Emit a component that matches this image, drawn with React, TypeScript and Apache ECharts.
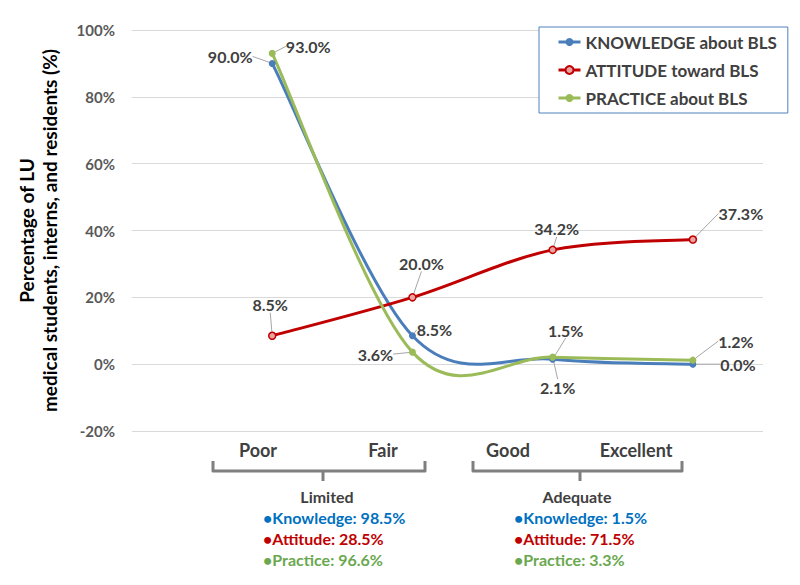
import React, { useEffect, useRef } from "react";
import * as echarts from "echarts";

const categories = ["Poor", "Fair", "Good", "Excellent"];
const seriesNames = ["KNOWLEDGE about BLS", "ATTITUDE toward BLS", "PRACTICE about BLS"];
const knowledge = [90.0, 8.5, 1.5, 0.0];
const attitude = [8.5, 20.0, 34.2, 37.3];
const practice = [93.0, 3.6, 2.1, 1.2];
const yMin = -20;
const yMax = 100;
const yStep = 20;
const groupNames = ["Limited", "Adequate"];
const summaryNames = ["Knowledge", "Attitude", "Practice"];
const limitedSummary = [98.5, 28.5, 96.6];
const adequateSummary = [1.5, 71.5, 3.3];

const FONT = "Lato, 'Open Sans', sans-serif";
const lineColors = ["#4A7EBB", "#C00000", "#9BBB59"];
const textColors = ["#0070C0", "#C00000", "#6AA84F"];

// label offsets (px) from each point, per series
const labelOffsets = [
  [[-42, -7], [22, -6], [13, -29], [45, 0]],
  [[-2, -31], [9, -34], [4, -21], [48, -26]],
  [[36, -7], [-37, 2], [5, 30], [43, -19]],
];

export default function App() {
  const ref = useRef<HTMLDivElement>(null);
  useEffect(() => {
    if (!ref.current) return;
    const chart = echarts.init(ref.current, undefined, { renderer: "svg" });
    const allData = [knowledge, attitude, practice];

    // smooth curves (Catmull-Rom style, like spreadsheet smoothing) via custom series
    const curveSeries = allData.map((vals, si) => ({
      name: seriesNames[si] + " curve",
      type: "custom",
      z: si === 2 ? 2 : 1,
      clip: false,
      silent: true,
      data: vals.map((v, i) => [i + 1, v]),
      encode: { x: 0, y: 1 },
      renderItem: (params: any, api: any) => {
        const i = params.dataIndex;
        const n = vals.length;
        if (i >= n - 1) return null;
        const P = (k: number) => {
          const kk = Math.max(0, Math.min(n - 1, k));
          return api.coord([kk + 1, vals[kk]]);
        };
        const p0 = P(i - 1), p1 = P(i), p2 = P(i + 1), p3 = P(i + 2);
        return {
          type: "bezierCurve",
          shape: {
            x1: p1[0],
            y1: p1[1],
            x2: p2[0],
            y2: p2[1],
            cpx1: p1[0] + (p2[0] - p0[0]) / 6,
            cpy1: p1[1] + (p2[1] - p0[1]) / 6,
            cpx2: p2[0] - (p3[0] - p1[0]) / 6,
            cpy2: p2[1] - (p3[1] - p1[1]) / 6,
          },
          style: { stroke: lineColors[si], lineWidth: 3, fill: "none", lineCap: "round" },
        };
      },
    }));

    const pointSeries = allData.map((vals, si) => ({
      name: seriesNames[si],
      type: "line",
      data: vals.map((v, i) => [i + 1, v]),
      symbol: "circle",
      symbolSize: 7,
      lineStyle: { color: lineColors[si], width: 3, opacity: 0 },
      itemStyle:
        si === 1
          ? { color: "#E9A3A3", borderColor: "#C00000", borderWidth: 1.5 }
          : { color: lineColors[si] },
      z: 3,
      label: {
        show: true,
        position: "inside",
        formatter: (p: any) => p.value[1].toFixed(1) + "%",
        fontFamily: FONT,
        fontWeight: "bold",
        fontSize: 16,
        color: "#404040",
      },
      labelLine: { show: true, lineStyle: { color: "#A6A6A6", width: 1 } },
      labelLayout: (p: any) => {
        const o = labelOffsets[si][p.dataIndex];
        return { dx: o[0], dy: o[1], hideOverlap: false };
      },
    }));

    const graphic: any[] = [];
    const catPos = [258, 383, 508, 636];
    categories.forEach((c, i) =>
      graphic.push({
        type: "text",
        x: catPos[i],
        y: 450,
        style: {
          text: c,
          fontFamily: FONT,
          fontWeight: "bold",
          fontSize: 18,
          fill: "#404040",
          align: "center",
          verticalAlign: "middle",
        },
      })
    );
    const brackets = [
      [213, 425, 323],
      [473, 682, 580],
    ];
    brackets.forEach(([a, b, m]) => {
      graphic.push({
        type: "polyline",
        shape: { points: [[a, 461], [a, 471], [b, 471], [b, 461]] },
        style: { stroke: "#7F7F7F", lineWidth: 3, fill: null, lineJoin: "round" },
      });
      graphic.push({
        type: "line",
        shape: { x1: m, y1: 471, x2: m, y2: 481 },
        style: { stroke: "#7F7F7F", lineWidth: 3 },
      });
    });
    const groupCenters = [327, 577];
    const groupLefts = [263, 514];
    const summaries = [limitedSummary, adequateSummary];
    groupNames.forEach((g, gi) => {
      graphic.push({
        type: "text",
        x: groupCenters[gi],
        y: 496,
        style: {
          text: g,
          fontFamily: FONT,
          fontWeight: "bold",
          fontSize: 16,
          fill: "#404040",
          align: "center",
          verticalAlign: "middle",
        },
      });
      summaryNames.forEach((nm, ni) =>
        graphic.push({
          type: "text",
          x: groupLefts[gi],
          y: 517 + ni * 21,
          style: {
            text: "\u2022" + nm + ": " + summaries[gi][ni].toFixed(1) + "%",
            fontFamily: FONT,
            fontWeight: "bold",
            fontSize: 16,
            fill: textColors[ni],
            align: "left",
            verticalAlign: "middle",
          },
        })
      );
    });

    chart.setOption({
      animation: false,
      grid: { left: 132, right: 37, top: 30, bottom: 154 },
      xAxis: { type: "value", min: 0, max: 4.5, show: false },
      yAxis: {
        type: "value",
        min: yMin,
        max: yMax,
        interval: yStep,
        axisLine: { show: false },
        axisTick: { show: false },
        splitLine: { lineStyle: { color: "#D9D9D9", width: 1 } },
        axisLabel: {
          formatter: "{value}%",
          fontFamily: FONT,
          fontWeight: "bold",
          fontSize: 15,
          color: "#595959",
          margin: 17,
        },
        name: "Percentage of LU\nmedical students, interns, and residents (%)",
        nameLocation: "middle",
        nameRotate: 90,
        nameGap: 71,
        nameTextStyle: {
          fontFamily: FONT,
          fontWeight: "bold",
          fontSize: 19,
          color: "#000000",
          lineHeight: 23,
        },
      },
      legend: {
        orient: "vertical",
        left: 539,
        top: 27,
        data: seriesNames.map((nm, i) => ({
          name: nm,
          lineStyle: { color: lineColors[i], width: 3, opacity: 1 },
        })),
        itemWidth: 22,
        itemHeight: 10,
        itemGap: 8,
        padding: [5, 11, 5, 18],
        borderColor: "#4F81BD",
        borderWidth: 1,
        backgroundColor: "#FFFFFF",
        textStyle: {
          fontFamily: FONT,
          fontWeight: "bold",
          fontSize: 17,
          color: "#404040",
          lineHeight: 20,
        },
      },
      series: [...curveSeries, ...pointSeries],
      graphic,
    });
    return () => chart.dispose();
  }, []);
  return (
    <div
      ref={ref}
      style={{ position: "fixed", left: 0, top: 0, width: 800, height: 585, background: "#fff" }}
    />
  );
}
